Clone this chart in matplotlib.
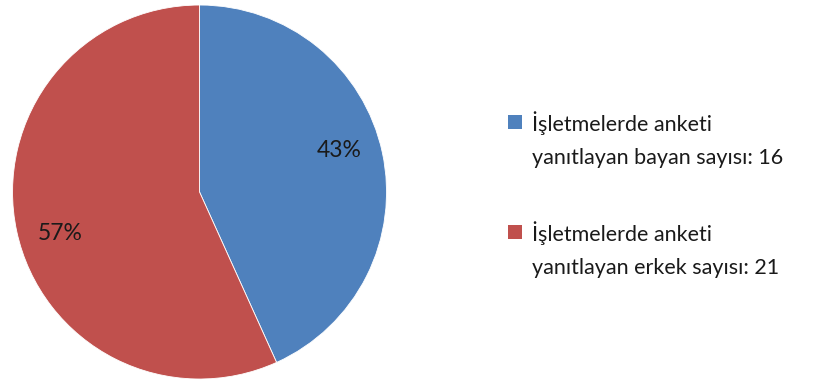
import matplotlib
matplotlib.use("Agg")
import numpy as np
import matplotlib.pyplot as plt
from matplotlib.patches import Rectangle

labels = ["İşletmelerde anketi\nyanıtlayan bayan sayısı: 16",
          "İşletmelerde anketi\nyanıtlayan erkek sayısı: 21"]
counts = [16, 21]
colors = ["#4F81BD", "#C0504D"]

plt.rcParams["font.family"] = ["Lato", "DejaVu Sans"]

W, H = 819, 383
fig = plt.figure(figsize=(W / 100, H / 100), dpi=100)
ax = fig.add_axes([0.0153, 0.0104, 0.4567, 0.9765])
wedges, texts, autotexts = ax.pie(
    counts, colors=colors, startangle=90, counterclock=False,
    autopct=lambda p: f"{p:.0f}%", pctdistance=0.78,
    textprops=dict(fontsize=16.5, color="#1a1a1a"),
    wedgeprops=dict(linewidth=0.6, edgecolor="white"))

# percentage labels sit a little counter-clockwise of each wedge's middle
for w, t in zip(wedges, autotexts):
    ang = np.deg2rad((w.theta1 + w.theta2) / 2 + 4.5)
    t.set_position((0.78 * np.cos(ang), 0.78 * np.sin(ang)))

ax.set_xlim(-1, 1)
ax.set_ylim(-1, 1)
ax.set_aspect("equal")
ax.axis("off")

# legend: square marker next to the first line of each two-line label
leg_x, text_x = 508, 532
first_baselines = [131, 241]
line_gap = 33
for label, color, base in zip(labels, colors, first_baselines):
    fig.patches.append(Rectangle((leg_x / W, 1 - (base - 2) / H), 14 / W, 14 / H,
                                 transform=fig.transFigure, facecolor=color,
                                 edgecolor="none"))
    for i, line in enumerate(label.split("\n")):
        fig.text(text_x / W, 1 - (base + i * line_gap) / H, line,
                 fontsize=15.5, color="#1a1a1a", ha="left", va="baseline")

fig.savefig("out.png", dpi=100)
